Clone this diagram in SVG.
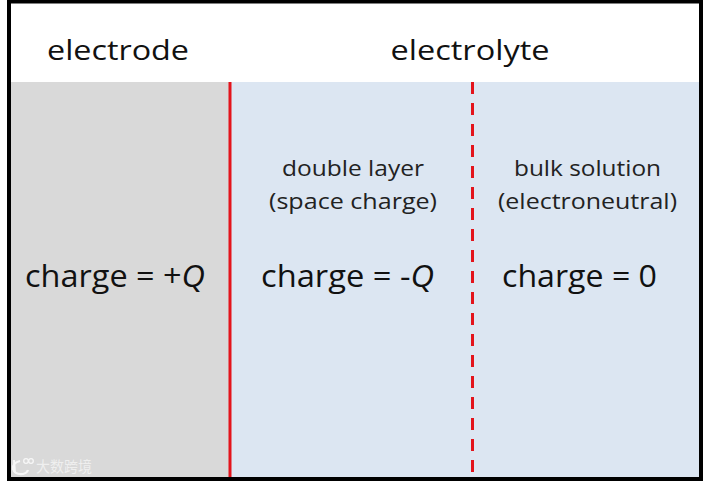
<svg xmlns="http://www.w3.org/2000/svg" width="703" height="482" viewBox="0 0 703 482">
<style>
  text { font-family: "Open Sans", "Noto Sans", "DejaVu Sans", sans-serif; fill: #111; text-anchor: middle; }
  .hdr { font-size: 28px; }
  .sub { font-size: 22px; fill: #222; }
  .chg { font-size: 31px; }
  .wm { font-family: "Noto Sans CJK SC", sans-serif; font-size: 15px; fill: #ffffff; fill-opacity: 0.75; text-anchor: start; }
</style>
<rect x="0" y="0" width="703" height="482" fill="#ffffff"/>
<g id="electrode">
  <rect x="11" y="82" width="219" height="396" fill="#d9d9d9"/>
  <text class="hdr" x="118" y="60" textLength="142" lengthAdjust="spacingAndGlyphs">electrode</text>
  <text class="chg" x="115" y="287" textLength="180" lengthAdjust="spacingAndGlyphs">charge = +<tspan font-style="italic">Q</tspan></text>
</g>
<g id="electrolyte">
  <rect x="230" y="82" width="470" height="396" fill="#dce6f2"/>
  <text class="hdr" x="470" y="60" textLength="159" lengthAdjust="spacingAndGlyphs">electrolyte</text>
</g>
<g id="double-layer">
  <text class="sub" x="353" y="176" textLength="142" lengthAdjust="spacingAndGlyphs">double layer</text>
  <text class="sub" x="353" y="209" textLength="168" lengthAdjust="spacingAndGlyphs">(space charge)</text>
  <text class="chg" x="347.5" y="287" textLength="173" lengthAdjust="spacingAndGlyphs">charge = -<tspan font-style="italic">Q</tspan></text>
</g>
<g id="bulk-solution">
  <text class="sub" x="587.5" y="176" textLength="147" lengthAdjust="spacingAndGlyphs">bulk solution</text>
  <text class="sub" x="587.5" y="209" textLength="179" lengthAdjust="spacingAndGlyphs">(electroneutral)</text>
  <text class="chg" x="579.5" y="287" textLength="155" lengthAdjust="spacingAndGlyphs">charge = 0</text>
</g>
<g id="connectors">
  <line x1="230" y1="82" x2="230" y2="478" stroke="#e3141c" stroke-width="3"/>
  <line x1="472.5" y1="82" x2="472.5" y2="478" stroke="#e3141c" stroke-width="3" stroke-dasharray="12 9"/>
</g>
<g id="frame">
  <rect x="9" y="1.5" width="692" height="477.5" fill="none" stroke="#000" stroke-width="4"/>
</g>
<g id="watermark" opacity="0.8">
  <path d="M20 461 Q12 463 13 469 Q15 475 23 474 Q27 473 28 470" fill="none" stroke="#fff" stroke-width="2.2"/>
  <line x1="14" y1="460" x2="15" y2="473" stroke="#fff" stroke-width="2"/>
  <circle cx="26" cy="461" r="2.3" fill="none" stroke="#fff" stroke-width="1.3"/>
  <circle cx="31" cy="461" r="2.3" fill="none" stroke="#fff" stroke-width="1.3"/>
  <text class="wm" x="36" y="472" textLength="56" lengthAdjust="spacingAndGlyphs">大数跨境</text>
</g>
</svg>
